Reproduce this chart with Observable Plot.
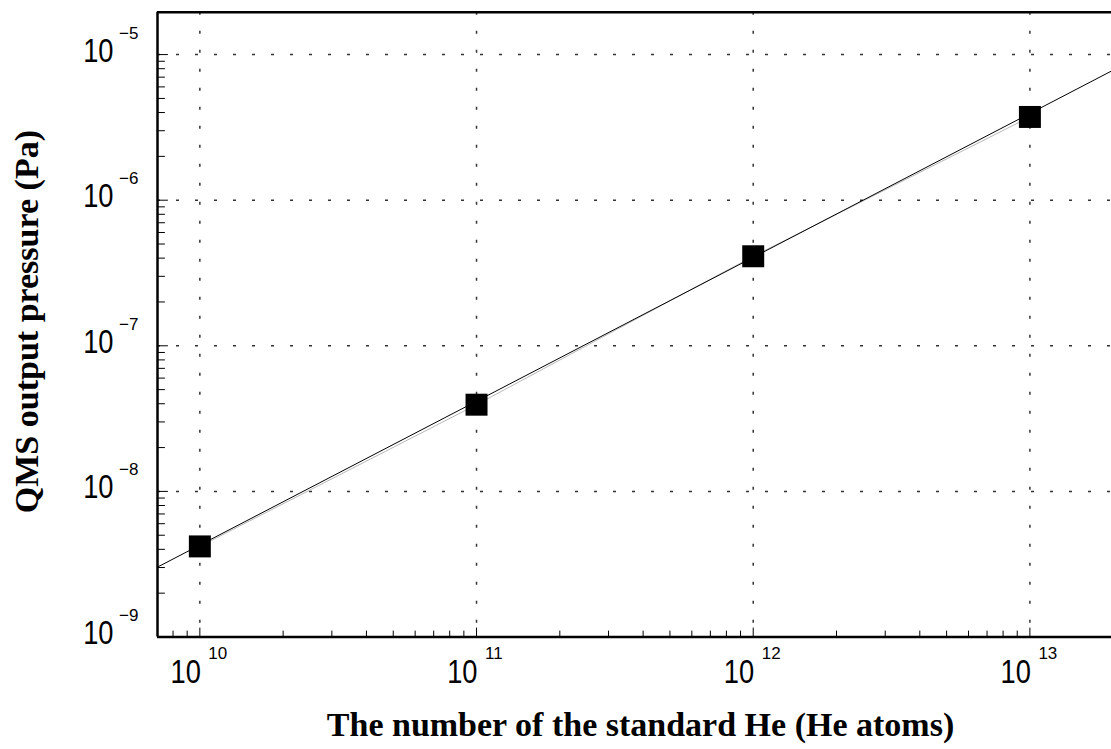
<!DOCTYPE html>
<html><head><meta charset="utf-8">
<script src="https://cdn.jsdelivr.net/npm/d3@7"></script>
<script src="https://cdn.jsdelivr.net/npm/@observablehq/plot@0.6"></script>
<style>body{margin:0;background:#fff;} svg{display:block;}</style>
</head><body><div id="chart"></div>
<script>
// ---- data ----
const heAtoms = [1e10, 1e11, 1e12, 1e13];
const qmsPressure = [4.19e-9, 3.94e-8, 4.12e-7, 3.73e-6];
const fitAtoms = [7.03e9, 1.972e13];
const fitPressure = [3.02e-9, 7.71e-6];
const xDomain = [7.03e9, 1.972e13];
const yDomain = [1e-9, 1.955e-5];
const xMajor = [1e10, 1e11, 1e12, 1e13];
const xExpLabels = ["10", "11", "12", "13"];
const yMajor = [1e-9, 1e-8, 1e-7, 1e-6, 1e-5];
const yExpLabels = ["\u22129", "\u22128", "\u22127", "\u22126", "\u22125"];
const xDecades = [1e9, 1e10, 1e11, 1e12, 1e13];
const yDecades = [1e-9, 1e-8, 1e-7, 1e-6, 1e-5];
const minorMult = [2, 3, 4, 5, 6, 7, 8, 9];
const xTitle = "The number of the standard He (He atoms)";
const yTitle = "QMS output pressure (Pa)";

const inside = (v, dom) => v >= dom[0] && v <= dom[1];
const xMinor = xDecades.flatMap(d => minorMult.map(m => m * d)).filter(v => inside(v, xDomain));
const yMinor = yDecades.flatMap(d => minorMult.map(m => m * d)).filter(v => inside(v, yDomain));
const idx = heAtoms.map((_, i) => i);
const fitIdx = fitAtoms.map((_, i) => i);

const tickShape = {draw(ctx, l) { ctx.moveTo(0, 0); ctx.lineTo(0, -l); }};
const numFont = "'Liberation Sans', Arial, sans-serif";
const titleFont = "'Liberation Serif', 'Times New Roman', serif";

const chart = Plot.plot({
  width: 1111, height: 749,
  marginTop: 11.7, marginLeft: 157, marginRight: 0, marginBottom: 112.5,
  style: {background: "white", overflow: "visible"},
  x: {type: "log", domain: xDomain, axis: null},
  y: {type: "log", domain: yDomain, axis: null},
  marks: [
    // dashed grid
    Plot.ruleX(xMajor, {x: d => d, stroke: "#333", strokeWidth: 1.5, strokeDasharray: "3,16"}),
    Plot.ruleY(yMajor.filter(v => v > yDomain[0]), {y: d => d, stroke: "#333", strokeWidth: 1.5, strokeDasharray: "3,16"}),
    // inward ticks
    Plot.vector(xMinor, {x: d => d, y: yDomain[0], length: 6, rotate: 0, anchor: "start", shape: tickShape, stroke: "black", strokeWidth: 1}),
    Plot.vector(xMajor, {x: d => d, y: yDomain[0], length: 9, rotate: 0, anchor: "start", shape: tickShape, stroke: "black", strokeWidth: 1}),
    Plot.vector(yMinor, {x: xDomain[0], y: d => d, length: 7, rotate: 90, anchor: "start", shape: tickShape, stroke: "black", strokeWidth: 1}),
    Plot.vector(yMajor, {x: xDomain[0], y: d => d, length: 10, rotate: 90, anchor: "start", shape: tickShape, stroke: "black", strokeWidth: 1}),
    // lines
    Plot.line(idx, {x: i => heAtoms[i], y: i => qmsPressure[i], stroke: "#b8b8b8", strokeWidth: 1}),
    Plot.line(fitIdx, {x: i => fitAtoms[i], y: i => fitPressure[i], stroke: "black", strokeWidth: 1, clip: true}),
    // points
    Plot.dot(idx, {x: i => heAtoms[i], y: i => qmsPressure[i], symbol: "square", r: 12.4, fill: "black", stroke: "none"}),
    // frame (left, bottom, top)
    Plot.ruleX([xDomain[0]], {x: d => d, stroke: "black", strokeWidth: 2.5}),
    Plot.ruleY([yDomain[0]], {y: d => d, stroke: "black", strokeWidth: 2.5}),
    Plot.ruleY([yDomain[1]], {y: d => d, stroke: "black", strokeWidth: 2.5}),
    // x tick labels
    Plot.text(xMajor, {x: d => d, y: yDomain[0], text: () => "10", textAnchor: "end", lineAnchor: "bottom", dx: 1, dy: 45.5, fontSize: 32.5, fontFamily: numFont, fill: "black", className: "numbig"}),
    Plot.text(xMajor, {x: d => d, y: yDomain[0], text: (d, i) => xExpLabels[i], textAnchor: "start", lineAnchor: "bottom", dx: 8.5, dy: 21.5, fontSize: 17, fontFamily: numFont, fill: "black", className: "numsmall"}),
    // y tick labels
    Plot.text(yMajor, {x: xDomain[0], y: d => d, text: () => "10", textAnchor: "end", lineAnchor: "bottom", dx: -44, dy: 7, fontSize: 32.5, fontFamily: numFont, fill: "black", className: "numbig"}),
    Plot.text(yMajor, {x: xDomain[0], y: d => d, text: (d, i) => yExpLabels[i], textAnchor: "start", lineAnchor: "bottom", dx: -38.5, dy: -16, fontSize: 17, fontFamily: numFont, fill: "black", className: "numsmall"}),
    // axis titles
    Plot.text([xTitle], {text: d => d, frameAnchor: "bottom", textAnchor: "middle", lineAnchor: "bottom", dx: 6, dy: 99, fontSize: 34, fontWeight: "bold", fontFamily: titleFont, fill: "black"}),
    Plot.text([yTitle], {text: d => d, frameAnchor: "left", textAnchor: "middle", lineAnchor: "bottom", rotate: -90, dx: -120, dy: -3, fontSize: 34, fontWeight: "bold", fontFamily: titleFont, fill: "black"})
  ]
});
// condense the numeric tick labels horizontally (reference uses a narrow face)
d3.select(chart).selectAll(".numbig text").each(function() {
  const t = this.getAttribute("transform") || "";
  this.setAttribute("transform", t + " scale(0.84,1)");
});
document.getElementById("chart").appendChild(chart);
</script>
</body></html>
